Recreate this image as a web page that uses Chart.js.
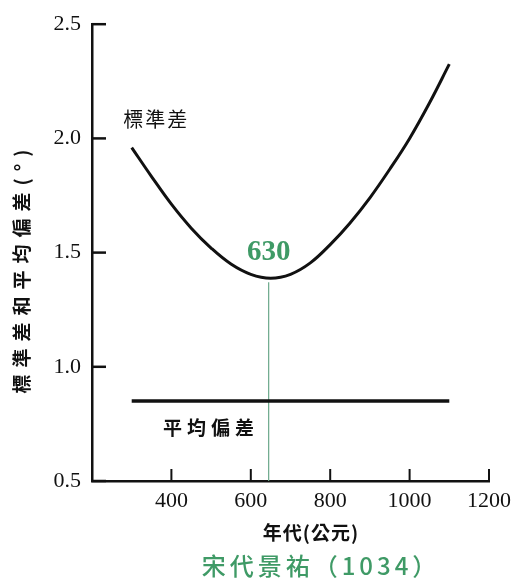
<!DOCTYPE html>
<html>
<head>
<meta charset="utf-8">
<script src="https://cdn.jsdelivr.net/npm/chart.js@4"></script>
<style>
  html, body { margin: 0; padding: 0; background: #fff; }
  #wrap { width: 518px; height: 585px; }
</style>
</head>
<body>
<div id="wrap"><canvas id="chart" width="518" height="585"></canvas></div>
<script>
// years (AD) and standard deviation curve
const years = [300, 350, 400, 450, 500, 550, 600, 650, 700, 750, 800, 850, 900, 950, 1000, 1050, 1100];
const stdDev = [1.96, 1.833, 1.712, 1.607, 1.52, 1.45, 1.405, 1.388, 1.405, 1.455, 1.535, 1.63, 1.74, 1.865, 2.0, 2.155, 2.325];

// mean deviation line
const meanYears = [300, 1100];
const meanDev = [0.85, 0.85];

// marker at the minimum
const markerYear = 645;
const markerRange = [0.5, 1.37];
const markerLabel = '630';

const xTicks = [400, 600, 800, 1000, 1200];
const yTicks = [0.5, 1.0, 1.5, 2.0, 2.5];

const green = '#3f9a66';
const cjk = '"Noto Sans CJK TC", "Noto Sans CJK SC", sans-serif';

const toPoints = (xs, ys) => xs.map((x, i) => ({ x: x, y: ys[i] }));

// inward ticks and text labels
const decorations = {
    id: 'decorations',
    afterDraw(chart) {
        const { ctx, chartArea } = chart;
        const xs = chart.scales.x, ys = chart.scales.y;
        ctx.save();
        ctx.strokeStyle = '#111';
        ctx.lineWidth = 2.5;
        yTicks.forEach(v => {
            const py = ys.getPixelForValue(v);
            ctx.beginPath();
            ctx.moveTo(chartArea.left, py);
            ctx.lineTo(chartArea.left + 14, py);
            ctx.stroke();
        });
        ctx.lineWidth = 2;
        xTicks.forEach(v => {
            const px = xs.getPixelForValue(v);
            ctx.beginPath();
            ctx.moveTo(px, chartArea.bottom);
            ctx.lineTo(px, chartArea.bottom - 12);
            ctx.stroke();
        });

        ctx.fillStyle = '#111';
        ctx.textAlign = 'center';
        ctx.textBaseline = 'middle';

        ctx.font = '20px ' + cjk;
        ctx.letterSpacing = '2px';
        ctx.fillText('標準差', xs.getPixelForValue(362), ys.getPixelForValue(2.085));

        ctx.font = 'bold 19px ' + cjk;
        ctx.letterSpacing = '5px';
        ctx.fillText('平均偏差', xs.getPixelForValue(500), ys.getPixelForValue(0.735));

        ctx.fillStyle = green;
        ctx.letterSpacing = '0px';
        ctx.font = 'bold 29px "Liberation Serif", serif';
        ctx.fillText(markerLabel, xs.getPixelForValue(markerYear), ys.getPixelForValue(1.5));

        // axis titles
        ctx.fillStyle = '#111';
        ctx.font = 'bold 19px ' + cjk;
        ctx.letterSpacing = '1px';
        ctx.fillText('年代(公元)', 311, chartArea.bottom + 52);

        ctx.save();
        ctx.translate(22, 268);
        ctx.rotate(-Math.PI / 2);
        ctx.font = 'bold 19px ' + cjk;
        ctx.letterSpacing = '7px';
        ctx.fillText('標準差和平均偏差(°)', 0, 0);
        ctx.restore();

        ctx.fillStyle = green;
        ctx.font = '500 24px ' + cjk;
        ctx.letterSpacing = '4px';
        ctx.fillText('宋代景祐（1034）', 321, chartArea.bottom + 85);
        ctx.restore();
    }
};

new Chart(document.getElementById('chart'), {
    type: 'scatter',
    data: {
        datasets: [
            {
                data: toPoints(years, stdDev),
                showLine: true,
                borderColor: '#111',
                borderWidth: 3,
                pointRadius: 0,
                tension: 0.4
            },
            {
                data: toPoints(meanYears, meanDev),
                showLine: true,
                borderColor: '#111',
                borderWidth: 3.5,
                pointRadius: 0
            },
            {
                data: toPoints([markerYear, markerYear], markerRange),
                showLine: true,
                borderColor: '#6aa88a',
                borderWidth: 1.2,
                pointRadius: 0
            }
        ]
    },
    options: {
        responsive: false,
        animation: false,
        layout: { padding: { top: 17, right: 26, left: 0, bottom: 0 } },
        plugins: { legend: { display: false }, tooltip: { enabled: false } },
        scales: {
            x: {
                type: 'linear',
                min: 200,
                max: 1200,
                afterFit: s => { s.height = 104; },
                afterBuildTicks: s => { s.ticks = xTicks.map(v => ({ value: v })); },
                grid: { display: false, drawTicks: false },
                border: { display: true, color: '#111', width: 2.5 },
                ticks: {
                    color: '#111',
                    padding: 7,
                    font: { family: '"Liberation Serif", serif', size: 22 },
                    callback: v => String(v)
                }
            },
            y: {
                min: 0.5,
                max: 2.5,
                afterFit: s => { s.width = 92; },
                afterBuildTicks: s => { s.ticks = yTicks.map(v => ({ value: v })); },
                grid: { display: false, drawTicks: false },
                border: { display: true, color: '#111', width: 2.5 },
                ticks: {
                    color: '#111',
                    padding: 11,
                    font: { family: '"Liberation Serif", serif', size: 22 },
                    callback: v => v.toFixed(1)
                }
            }
        }
    },
    plugins: [decorations]
});
</script>
</body>
</html>
